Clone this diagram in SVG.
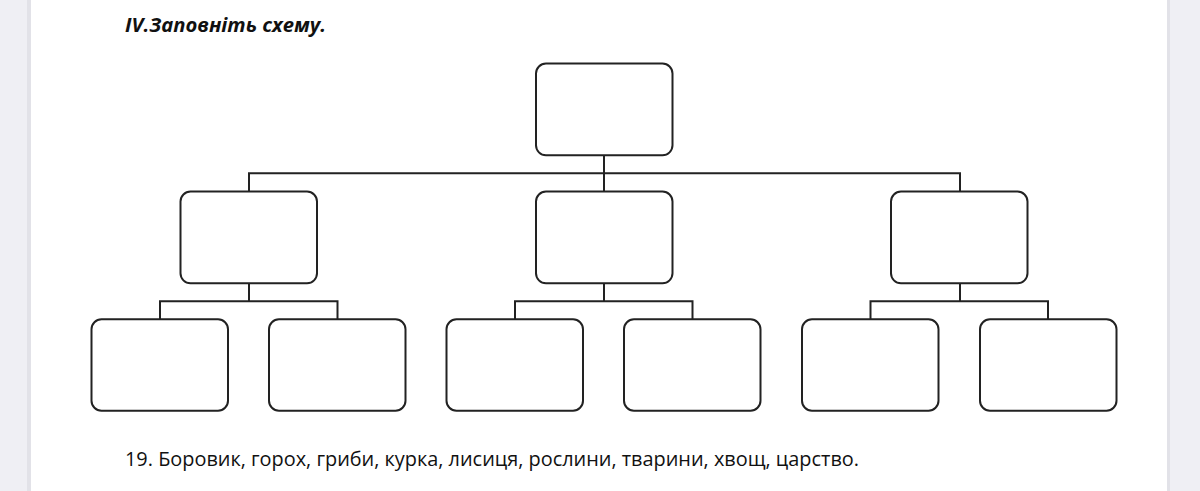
<svg xmlns="http://www.w3.org/2000/svg" width="1200" height="491" viewBox="0 0 1200 491">
<style>
.box{fill:#fff;stroke:#222;stroke-width:2}
.ln{fill:none;stroke:#222;stroke-width:2}
.t{font-family:"Open Sans","Liberation Sans",sans-serif;fill:#111}
</style>
<rect x="0" y="0" width="1200" height="491" fill="#fff"/>
<rect x="0" y="0" width="28" height="491" fill="#efeff4"/>
<rect x="27" y="0" width="4" height="491" fill="#e2e2e8"/>
<rect x="1167" y="0" width="33" height="491" fill="#efeff4"/>
<rect x="1167" y="0" width="3" height="491" fill="#e2e2e8"/>
<text class="t" x="125" y="32" font-size="19" font-weight="bold" font-style="italic" textLength="201" lengthAdjust="spacingAndGlyphs">IV.Заповніть схему.</text>
<g id="connectors">
<path class="ln" d="M604 155V191.5M249 191.5V173.3H960V191.5"/>
<path class="ln" d="M249 283.3V301.3M160 319.3V301.3H337.5V319.3"/>
<path class="ln" d="M604 283.3V301.3M515 319.3V301.3H692.5V319.3"/>
<path class="ln" d="M960 283.3V301.3M870.5 319.3V301.3H1048V319.3"/>
</g>
<g id="root"><rect class="box" x="536" y="63.5" width="136.5" height="91.8" rx="10"/></g>
<g id="mid1"><rect class="box" x="180.5" y="191.5" width="136.5" height="91.8" rx="10"/></g>
<g id="mid2"><rect class="box" x="536" y="191.5" width="136.5" height="91.8" rx="10"/></g>
<g id="mid3"><rect class="box" x="891" y="191.5" width="136.5" height="91.8" rx="10"/></g>
<g id="leaf1"><rect class="box" x="91.5" y="319.3" width="136.5" height="91.4" rx="10"/></g>
<g id="leaf2"><rect class="box" x="269" y="319.3" width="136.5" height="91.4" rx="10"/></g>
<g id="leaf3"><rect class="box" x="446.5" y="319.3" width="136.5" height="91.4" rx="10"/></g>
<g id="leaf4"><rect class="box" x="624" y="319.3" width="136.5" height="91.4" rx="10"/></g>
<g id="leaf5"><rect class="box" x="802" y="319.3" width="136.5" height="91.4" rx="10"/></g>
<g id="leaf6"><rect class="box" x="980" y="319.3" width="136.5" height="91.4" rx="10"/></g>
<text class="t" x="125" y="466" font-size="20" textLength="734" lengthAdjust="spacingAndGlyphs">19. Боровик, горох, гриби, курка, лисиця, рослини, тварини, хвощ, царство.</text>
</svg>
